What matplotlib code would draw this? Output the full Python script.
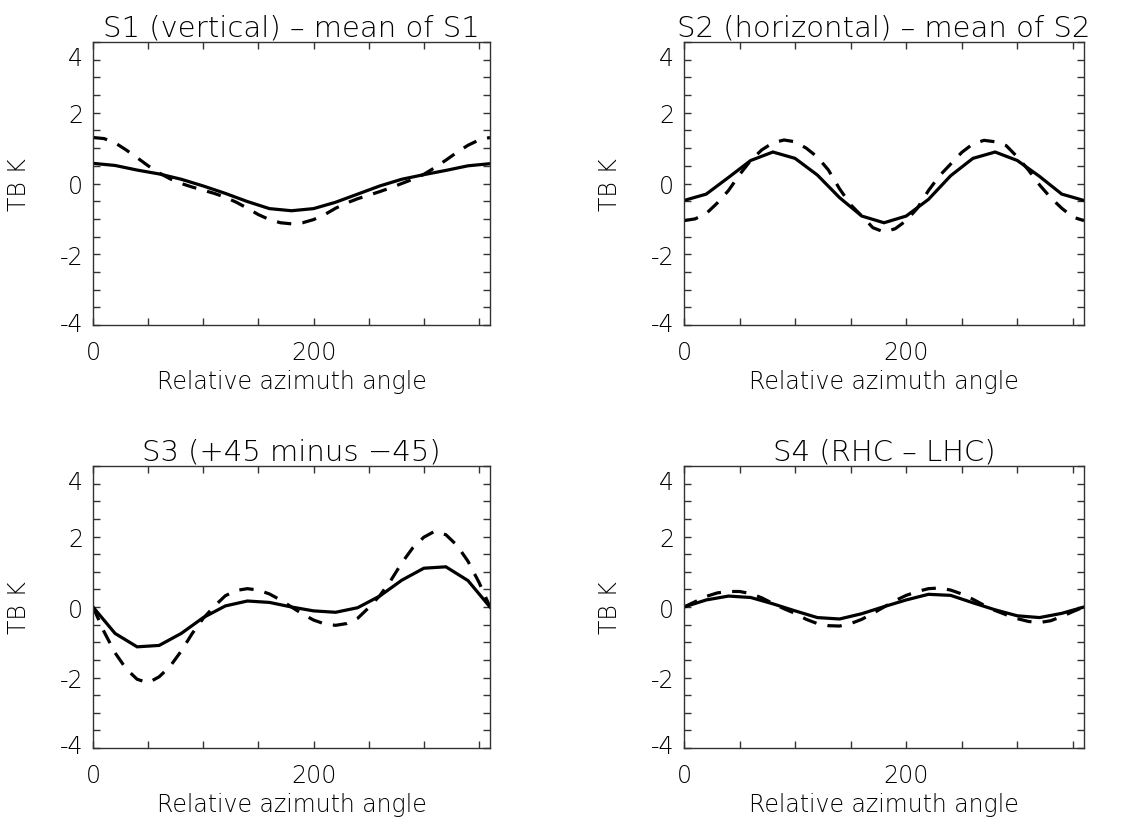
import matplotlib
matplotlib.use("Agg")
import matplotlib.pyplot as plt
from matplotlib.ticker import FixedLocator, MultipleLocator, FuncFormatter
from matplotlib.transforms import ScaledTranslation

# ---------------- data ----------------
angle_coarse = [0, 20, 40, 60, 80, 100, 120, 140, 160, 180,
                200, 220, 240, 260, 280, 300, 320, 340, 360]
angle_fine = [0, 10, 20, 30, 40, 50, 60, 70, 80, 90, 100, 110, 120,
              130, 140, 150, 160, 170, 180, 190, 200, 210, 220, 230,
              240, 250, 260, 270, 280, 290, 300, 310, 320, 330, 340,
              350, 360]

s1_solid = [0.57, 0.51, 0.38, 0.27, 0.12, -0.07, -0.28, -0.51, -0.71, -0.77,
            -0.71, -0.53, -0.30, -0.07, 0.12, 0.25, 0.37, 0.50, 0.56]
s1_dashed = [1.30, 1.27, 1.15, 0.95, 0.73, 0.50, 0.30, 0.13, 0.00, -0.10,
             -0.19, -0.28, -0.39, -0.53, -0.70, -0.88, -1.02, -1.11, -1.14,
             -1.11, -1.02, -0.88, -0.70, -0.55, -0.43, -0.33, -0.23, -0.12,
             0.00, 0.12, 0.26, 0.45, 0.66, 0.88, 1.08, 1.23, 1.30]

s2_solid = [-0.48, -0.30, 0.17, 0.65, 0.89, 0.71, 0.24, -0.40, -0.92, -1.11,
            -0.92, -0.45, 0.22, 0.71, 0.89, 0.65, 0.20, -0.30, -0.48]
s2_dashed = [-1.05, -1.00, -0.85, -0.55, -0.20, 0.25, 0.65, 0.95, 1.15, 1.23,
             1.18, 1.00, 0.75, 0.38, -0.15, -0.60, -0.92, -1.25, -1.37,
             -1.28, -1.05, -0.70, -0.20, 0.22, 0.55, 0.88, 1.12, 1.22,
             1.18, 1.07, 0.75, 0.38, -0.04, -0.40, -0.70, -0.95, -1.05]

s3_solid = [0.0, -0.75, -1.13, -1.09, -0.75, -0.30, 0.03, 0.17, 0.13, 0.0,
            -0.11, -0.15, -0.02, 0.31, 0.76, 1.10, 1.14, 0.75, 0.0]
s3_dashed = [0.0, -0.70, -1.30, -1.75, -2.05, -2.15, -1.98, -1.68, -1.25,
             -0.75, -0.32, 0.02, 0.32, 0.47, 0.52, 0.48, 0.37, 0.20, 0.0,
             -0.20, -0.37, -0.48, -0.52, -0.47, -0.32, -0.02, 0.32, 0.75,
             1.25, 1.68, 1.98, 2.15, 2.05, 1.75, 1.30, 0.70, 0.0]

s4_solid = [0.0, 0.20, 0.31, 0.27, 0.09, -0.11, -0.30, -0.34, -0.19, 0.01,
            0.20, 0.36, 0.33, 0.12, -0.08, -0.25, -0.30, -0.18, 0.0]
s4_dashed = [0.0, 0.15, 0.30, 0.40, 0.44, 0.44, 0.38, 0.26, 0.10, -0.05,
             -0.18, -0.35, -0.47, -0.53, -0.54, -0.47, -0.35, -0.18, 0.0,
             0.18, 0.33, 0.44, 0.52, 0.54, 0.48, 0.37, 0.22, 0.05, -0.10,
             -0.22, -0.33, -0.41, -0.44, -0.39, -0.27, -0.13, 0.0]

titles = ["S1 (vertical) \u2013 mean of S1",
          "S2 (horizontal) \u2013 mean of S2",
          "S3 (+45 minus \u221245)",
          "S4 (RHC \u2013 LHC)"]
xlabel = "Relative azimuth angle"
ylabel = "TB K"
x_major = [0, 200]
y_major = [-4, -2, 0, 2, 4]

solids = [s1_solid, s2_solid, s3_solid, s4_solid]
dasheds = [s1_dashed, s2_dashed, s3_dashed, s4_dashed]

# ---------------- figure ----------------
plt.rcParams['font.family'] = ['DejaVu Sans']
plt.rcParams['font.weight'] = 'light'
plt.rcParams['axes.titleweight'] = 'light'
plt.rcParams['axes.labelweight'] = 'light'

W, H = 1126, 820
fig = plt.figure(figsize=(W / 100, H / 100), dpi=100)

# axes boxes in pixels: (left, top, right, bottom)
boxes = [(93, 43, 490, 326), (684, 43, 1084, 326),
         (93, 467, 490, 749), (684, 467, 1084, 749)]

frame_col = "#333333"
axes = []
for i, (l, t, r, b) in enumerate(boxes):
    ax = fig.add_axes([l / W, 1 - b / H, (r - l) / W, (b - t) / H])
    ax.plot(angle_coarse, solids[i], color="black", lw=2.3,
            solid_joinstyle="miter")
    ax.plot(angle_fine, dasheds[i], color="black", lw=2.3,
            linestyle=(0, (4.5, 3.5)))
    ax.set_xlim(0, 360)
    ax.set_ylim(-4, 4)
    ax.xaxis.set_major_locator(FixedLocator(x_major))
    ax.xaxis.set_minor_locator(FixedLocator([50, 100, 150, 250, 300, 350]))
    ax.yaxis.set_major_locator(FixedLocator(y_major))
    ax.yaxis.set_minor_locator(MultipleLocator(0.5))
    ax.yaxis.set_major_formatter(FuncFormatter(lambda v, p: "%d" % v))
    ax.tick_params(which="both", direction="in", top=True, right=True,
                   length=5, width=1.0, color=frame_col)
    ax.tick_params(axis="x", which="major", labelsize=17, pad=11)
    ax.tick_params(axis="y", which="major", labelsize=17, pad=7)
    for sp in ax.spines.values():
        sp.set_color(frame_col)
        sp.set_linewidth(1.0)
    ax.set_title(titles[i], fontsize=21, pad=5)
    ax.set_xlabel(xlabel, fontsize=17)
    ax.xaxis.set_label_coords(0.5, -0.155)
    ax.set_ylabel(ylabel, fontsize=17)
    ax.yaxis.set_label_coords(-0.156, 0.5)
    axes.append(ax)

fig.canvas.draw()
# nudge end labels inward as in the reference
for ax in axes:
    for lab in ax.get_yticklabels():
        txt = lab.get_text().replace('\u2212', '-')
        if txt == '4':
            lab.set_transform(lab.get_transform() +
                              ScaledTranslation(0, -13 / 100, fig.dpi_scale_trans))
        elif txt == '-4':
            lab.set_transform(lab.get_transform() +
                              ScaledTranslation(0, 4 / 100, fig.dpi_scale_trans))

fig.savefig("out.png", dpi=100)
